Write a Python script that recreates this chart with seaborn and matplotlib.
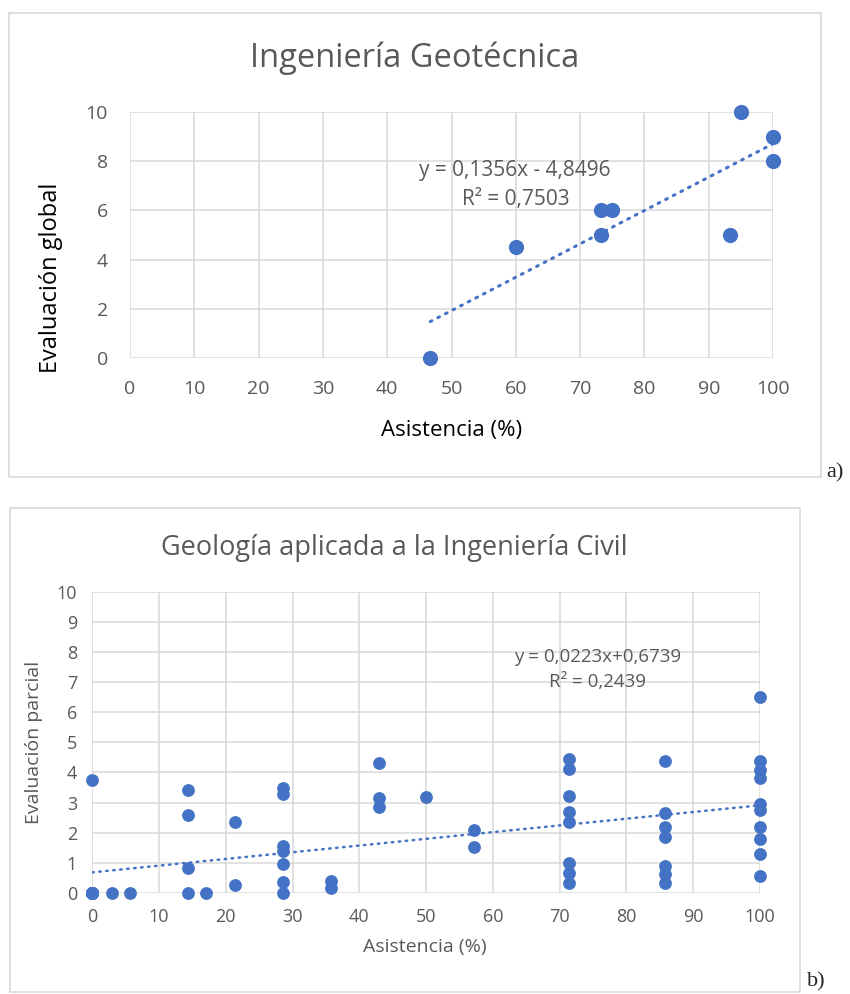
import matplotlib
matplotlib.use("Agg")
import matplotlib.pyplot as plt
from matplotlib.patches import Rectangle
import numpy as np
import pandas as pd
import seaborn as sns

# a) Ingenieria Geotecnica
asist_a = [46.7, 60.0, 73.3, 75.0, 73.3, 93.3, 95.0, 100.0, 100.0]
eval_a = [0.0, 4.5, 6.0, 6.0, 5.0, 5.0, 10.0, 9.0, 8.0]

# b) Geologia aplicada a la Ingenieria Civil
# several students overlap at (0, 0) -- needed to match the Excel trendline
asist_b = [0, 0, 0, 0, 0, 0, 0, 0, 0, 2.9, 5.7,
           14.3, 14.3, 14.3, 14.3, 17.1,
           21.4, 21.4,
           28.6, 28.6, 28.6, 28.6, 28.6, 28.6, 28.6,
           35.7, 35.7,
           42.9, 42.9, 42.9, 50.0, 57.1, 57.1,
           71.4, 71.4, 71.4, 71.4, 71.4, 71.4, 71.4, 71.4,
           85.7, 85.7, 85.7, 85.7, 85.7, 85.7, 85.7,
           100, 100, 100, 100, 100, 100, 100, 100, 100, 100,
           0]
eval_b = [0.0, 0.0, 0.0, 0.0, 0.0, 0.0, 0.0, 0.0, 0.0, 0.0, 0.0,
          3.42, 2.6, 0.82, 0.0, 0.0,
          2.35, 0.25,
          3.5, 3.3, 1.55, 1.38, 0.97, 0.38, 0.0,
          0.41, 0.15,
          4.3, 3.15, 2.85, 3.17, 2.1, 1.53,
          4.45, 4.13, 3.23, 2.68, 2.37, 0.98, 0.65, 0.33,
          4.38, 2.67, 2.2, 1.87, 0.9, 0.63, 0.33,
          6.5, 4.38, 4.08, 3.82, 2.95, 2.77, 2.2, 1.8, 1.3, 0.58,
          3.75]

eq_a = ["y = 0,1356x - 4,8496", "R² = 0,7503"]
eq_b = ["y = 0,0223x+0,6739", "R² = 0,2439"]

df_a = pd.DataFrame({"Asistencia": asist_a, "Evaluacion": eval_a})
df_b = pd.DataFrame({"Asistencia": asist_b, "Evaluacion": eval_b})

blue = "#4472C4"
gray = "#595959"
grid = "#d9d9d9"

sns.set_style("white")
plt.rcParams["font.family"] = ["Open Sans", "DejaVu Sans"]

fig = plt.figure(figsize=(8.5, 9.94), dpi=100)

# panel borders
fig.patches.append(Rectangle((9/850, 1-477/994), (821-9)/850, (477-13)/994,
                             transform=fig.transFigure, fill=False, ec=grid, lw=1.2))
fig.patches.append(Rectangle((10/850, 1-992/994), (800-10)/850, (992-508)/994,
                             transform=fig.transFigure, fill=False, ec=grid, lw=1.2))
fig.text(826/850, 1-477/994, "a)", family="Liberation Serif", fontsize=16, va="baseline")
fig.text(807/850, 1-986/994, "b)", family="Liberation Serif", fontsize=16, va="baseline")


def style_axes(ax, yticks, tsize, xpad, ypad):
    ax.set_xlim(0, 100)
    ax.set_ylim(0, 10)
    ax.set_xticks(range(0, 101, 10))
    ax.set_yticks(yticks)
    ax.grid(True, color=grid, lw=1.1)
    ax.set_axisbelow(True)
    for s in ax.spines.values():
        s.set_visible(False)
    ax.tick_params(axis="both", length=0, labelsize=tsize, colors=gray)
    ax.tick_params(axis="x", pad=xpad)
    ax.tick_params(axis="y", pad=ypad)


# ---- a)
ax1 = fig.add_axes([130/850, 1-358/994, 643/850, 246/994])
sns.regplot(data=df_a, x="Asistencia", y="Evaluacion", ax=ax1, ci=None,
            scatter_kws=dict(s=120, color=blue, alpha=1, clip_on=False, zorder=3, linewidths=0),
            line_kws=dict(color=blue, lw=2.2, linestyle=(0, (0.6, 2.2)),
                          dash_capstyle="round", zorder=2))
style_axes(ax1, range(0, 11, 2), 14, 16, 16)
ax1.set_xlabel("Asistencia (%)", fontsize=16, color="black")
ax1.set_ylabel("Evaluación global", fontsize=17, color="black")
ax1.xaxis.set_label_coords(0.50, -0.252)
ax1.yaxis.set_label_coords(-0.104, 0.325)
ax1.text(0.443, 1.22, "Ingeniería Geotécnica", transform=ax1.transAxes,
         ha="center", va="center", fontsize=23.5, color=gray)
ax1.text(59.9, 7.64, eq_a[0], ha="center", va="center", fontsize=15, color=gray)
ax1.text(60.0, 6.46, eq_a[1], ha="center", va="center", fontsize=15, color=gray)

# ---- b)
ax2 = fig.add_axes([92.3/850, 1-893/994, 667.7/850, 301.3/994])
sns.regplot(data=df_b, x="Asistencia", y="Evaluacion", ax=ax2, ci=None,
            scatter_kws=dict(s=85, color=blue, alpha=1, clip_on=False, zorder=3, linewidths=0),
            line_kws=dict(color=blue, lw=1.8, linestyle=(0, (0.6, 2.2)),
                          dash_capstyle="round", zorder=2))
style_axes(ax2, range(0, 11, 1), 13, 11, 11)
ax2.set_xlabel("Asistencia (%)", fontsize=14, color=gray)
ax2.set_ylabel("Evaluación parcial", fontsize=14, color=gray)
ax2.xaxis.set_label_coords(0.498, -0.149)
ax2.yaxis.set_label_coords(-0.074, 0.50)
ax2.text(0.453, 1.145, "Geología aplicada a la Ingeniería Civil", transform=ax2.transAxes,
         ha="center", va="center", fontsize=19.5, color=gray)
ax2.text(75.7, 7.83, eq_b[0], ha="center", va="center", fontsize=13.5, color=gray)
ax2.text(75.7, 7.0, eq_b[1], ha="center", va="center", fontsize=13.5, color=gray)

fig.savefig("out.png", dpi=100)
